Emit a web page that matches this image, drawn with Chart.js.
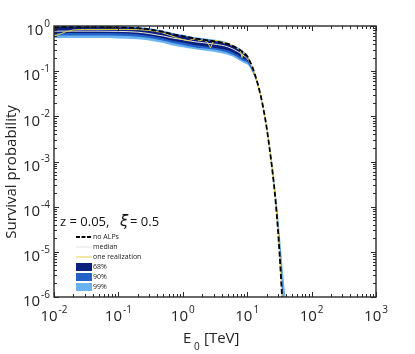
<!DOCTYPE html>
<html lang="en">
<head>
<meta charset="UTF-8">
<title>Survival probability</title>
<script src="https://cdn.jsdelivr.net/npm/chart.js"></script>
<style>
  html, body { margin: 0; padding: 0; background: #fff; }
  #wrap { width: 415px; height: 354px; position: relative; }
</style>
</head>
<body>
<div id="wrap"><canvas id="myChart"></canvas></div>
<script>
// energies in TeV (shared by the bands, the median and the no-ALP curve)
const energy = [0.01, 0.02, 0.05, 0.1, 0.2, 0.3, 0.5, 0.7, 1, 1.5, 2, 3, 4, 5, 6, 7, 8, 9,
  10, 11, 12, 13, 14, 15, 16, 17, 18, 19, 20, 22, 24, 26, 28, 30, 32, 34, 36, 38, 40];

const noAlps = [0.96, 0.96, 0.955, 0.94, 0.9, 0.84, 0.74, 0.66, 0.6, 0.53, 0.5, 0.46, 0.43, 0.4, 0.36, 0.32, 0.285, 0.25,
  0.215, 0.165, 0.125, 0.09, 0.064, 0.045, 0.031, 0.021, 0.0138, 0.009, 0.0058, 0.0022, 0.00085, 0.00031, 0.000105,
  3.1e-5, 8e-6, 1.8e-6, 4e-7, 8e-8, 1.5e-8];

const median = [0.77, 0.77, 0.77, 0.76, 0.73, 0.68, 0.6, 0.54, 0.5, 0.45, 0.43, 0.4, 0.375, 0.345, 0.31, 0.275, 0.245, 0.215,
  0.19, 0.152, 0.118, 0.086, 0.062, 0.0438, 0.0302, 0.0206, 0.0136, 0.0089, 0.0057, 0.00218, 0.00084, 0.000305, 0.000103,
  3.1e-5, 8e-6, 1.8e-6, 4e-7, 8e-8, 1.5e-8];

const band68Lo = [0.70, 0.70, 0.70, 0.69, 0.66, 0.61, 0.53, 0.47, 0.43, 0.38, 0.36, 0.33, 0.31, 0.29, 0.26, 0.23, 0.205, 0.185,
  0.172, 0.14, 0.109, 0.081, 0.059, 0.0423, 0.0291, 0.0202, 0.0132, 0.0086, 0.0056, 0.0021, 0.00082, 0.0003, 0.0001,
  3e-5, 7.8e-6, 1.7e-6, 3.8e-7, 8e-8, 1.5e-8];
const band68Hi = [0.95, 0.95, 0.945, 0.93, 0.89, 0.83, 0.73, 0.65, 0.59, 0.52, 0.49, 0.45, 0.42, 0.394, 0.355, 0.315, 0.28, 0.246,
  0.213, 0.163, 0.124, 0.089, 0.0634, 0.0448, 0.0309, 0.021, 0.0138, 0.009, 0.0058, 0.0023, 0.0009, 0.00034, 0.00012,
  3.8e-5, 1.1e-5, 2.8e-6, 7e-7, 1.6e-7, 3e-8];
const band90Lo = [0.62, 0.62, 0.62, 0.61, 0.58, 0.54, 0.47, 0.42, 0.38, 0.34, 0.32, 0.3, 0.28, 0.256, 0.23, 0.205, 0.182, 0.165,
  0.157, 0.13, 0.1025, 0.077, 0.057, 0.0414, 0.0285, 0.02, 0.0131, 0.0086, 0.0055, 0.0021, 0.0008, 0.00029, 0.000097,
  2.9e-5, 7.5e-6, 1.6e-6, 3.6e-7, 8e-8, 1.5e-8];
const band90Hi = [0.98, 0.98, 0.975, 0.96, 0.92, 0.86, 0.76, 0.68, 0.62, 0.55, 0.52, 0.48, 0.45, 0.41, 0.37, 0.33, 0.293, 0.258,
  0.221, 0.17, 0.129, 0.092, 0.065, 0.0457, 0.0315, 0.0214, 0.0141, 0.0092, 0.0059, 0.0024, 0.00095, 0.00037, 0.00014,
  4.8e-5, 1.5e-5, 4.2e-6, 1.2e-6, 3e-7, 7e-8];
const band99Lo = [0.54, 0.54, 0.54, 0.53, 0.51, 0.48, 0.42, 0.37, 0.34, 0.31, 0.29, 0.27, 0.25, 0.232, 0.21, 0.186, 0.165, 0.15,
  0.142, 0.12, 0.095, 0.074, 0.055, 0.0405, 0.0279, 0.0197, 0.013, 0.0085, 0.0055, 0.0021, 0.0008, 0.00028, 0.000095,
  2.8e-5, 7.2e-6, 1.5e-6, 3.5e-7, 7e-8, 1.4e-8];
const band99Hi = [1.0, 1.0, 1.0, 0.99, 0.95, 0.89, 0.79, 0.7, 0.64, 0.57, 0.54, 0.5, 0.47, 0.428, 0.385, 0.342, 0.305, 0.267,
  0.23, 0.175, 0.131, 0.094, 0.066, 0.0464, 0.032, 0.0216, 0.0142, 0.0093, 0.006, 0.0025, 0.00105, 0.00044, 0.00018,
  7e-5, 2.5e-5, 9e-6, 3.5e-6, 1.6e-6, 8e-7];

// one random realization of the ALP-photon mixing
const realEnergy = [0.01, 0.012, 0.015, 0.02, 0.03, 0.05, 0.1, 0.2, 0.3, 0.45, 0.6, 0.8, 1.0, 1.2, 1.4, 1.6, 1.8, 2.1,
  2.4, 2.7, 3.0, 3.4, 4, 5, 6, 7, 7.8, 8.3, 8.8, 9.5, 10.5, 11, 12, 13, 14, 15, 16, 17, 18, 19, 20, 22, 24, 26, 28,
  30, 32, 34, 36];
const realization = [0.6, 0.65, 0.74, 0.82, 0.84, 0.84, 0.84, 0.83, 0.8, 0.73, 0.64, 0.55, 0.5, 0.47, 0.5, 0.53, 0.47, 0.5,
  0.44, 0.33, 0.47, 0.48, 0.44, 0.41, 0.37, 0.32, 0.29, 0.2, 0.26, 0.235, 0.19, 0.168, 0.125, 0.09, 0.064, 0.045,
  0.031, 0.021, 0.0138, 0.009, 0.0058, 0.0022, 0.00085, 0.00031, 0.000105, 3.1e-5, 8e-6, 1.8e-6, 4e-7];

const xDecades = [-2, -1, 0, 1, 2, 3];
const yDecades = [-6, -5, -4, -3, -2, -1, 0];
const legendLabels = ['no ALPs', 'median', 'one realization', '68%', '90%', '99%'];

const FONT = '"Open Sans", "DejaVu Sans", sans-serif';
const C68 = '#0b1f7d';
const C90 = '#2462c8';
const C99 = '#6ab2f0';

const pts = (xs, ys) => xs.map((e, i) => ({ x: e, y: ys[i] }));

function bandPair(lo, hi, color, order) {
  return [
    { data: pts(energy, lo), borderWidth: 0, fill: false, order: order, cubicInterpolationMode: 'monotone' },
    { data: pts(energy, hi), borderWidth: 0, fill: '-1', backgroundColor: color, order: order, cubicInterpolationMode: 'monotone' }
  ];
}

function drawPow(ctx, exp, x, y, align) {
  ctx.font = '15px ' + FONT;
  const wb = ctx.measureText('10').width;
  ctx.font = '10px ' + FONT;
  const we = ctx.measureText(exp).width;
  const total = wb + we + 1;
  let x0 = align === 'center' ? x - total / 2 : x - total;
  ctx.textAlign = 'left';
  ctx.textBaseline = 'middle';
  ctx.font = '15px ' + FONT;
  ctx.fillText('10', x0, y);
  ctx.font = '10px ' + FONT;
  ctx.fillText(exp, x0 + wb + 1, y - 7);
}

const framePlugin = {
  id: 'frame',
  afterDraw(chart) {
    const { ctx, chartArea: a, scales } = chart;
    const xs = scales.x, ys = scales.y;
    ctx.save();
    ctx.strokeStyle = '#2a2a2a';
    ctx.lineWidth = 1;
    const seg = (x1, y1, x2, y2) => { ctx.beginPath(); ctx.moveTo(x1, y1); ctx.lineTo(x2, y2); ctx.stroke(); };

    // inward tick marks on all four sides
    xDecades.forEach(d => {
      for (let m = 1; m < 10; m++) {
        const v = m * Math.pow(10, d);
        if (v > xs.max * 1.0001) break;
        const px = Math.round(xs.getPixelForValue(v)) + 0.5;
        const len = m === 1 ? 5 : 3;
        seg(px, a.bottom, px, a.bottom - len);
        seg(px, a.top, px, a.top + len);
      }
    });
    yDecades.forEach(d => {
      for (let m = 1; m < 10; m++) {
        const v = m * Math.pow(10, d);
        if (v > ys.max * 1.0001) break;
        const py = Math.round(ys.getPixelForValue(v)) + 0.5;
        const len = m === 1 ? 5 : 3;
        seg(a.left, py, a.left + len, py);
        seg(a.right, py, a.right - len, py);
      }
    });
    ctx.lineWidth = 1.4;
    ctx.strokeRect(a.left, a.top, a.right - a.left, a.bottom - a.top);

    // tick labels
    ctx.fillStyle = '#222';
    xDecades.forEach(d => drawPow(ctx, String(d), xs.getPixelForValue(Math.pow(10, d)), a.bottom + 20, 'center'));
    yDecades.forEach(d => drawPow(ctx, String(d), a.left - 4, ys.getPixelForValue(Math.pow(10, d)) + 5, 'right'));

    // axis titles
    ctx.font = '15px ' + FONT;
    ctx.textBaseline = 'middle';
    ctx.textAlign = 'center';
    ctx.save();
    ctx.translate(12, 172);
    ctx.rotate(-Math.PI / 2);
    ctx.fillText('Survival probability', 0, 0);
    ctx.restore();
    ctx.textAlign = 'left';
    ctx.textBaseline = 'alphabetic';
    ctx.fillText('E', 183, 343);
    ctx.font = '10px ' + FONT;
    ctx.fillText('0', 194, 350);
    ctx.font = '15px ' + FONT;
    ctx.fillText('[TeV]', 204, 343);

    // annotation
    ctx.textBaseline = 'middle';
    ctx.fillStyle = '#111';
    ctx.font = '13px ' + FONT;
    ctx.fillText('z = 0.05,', 60, 222);
    ctx.font = 'italic 15px "DejaVu Sans", sans-serif';
    ctx.fillText('ξ', 120, 222);
    ctx.font = '13px ' + FONT;
    ctx.fillText('= 0.5', 130, 222);

    // legend
    const ly = [237, 247, 257, 267, 277, 287];
    ctx.font = '7px ' + FONT;
    ctx.lineWidth = 2;
    ctx.strokeStyle = '#000';
    ctx.setLineDash([4, 1.5]);
    seg(76, ly[0], 92, ly[0]);
    ctx.setLineDash([]);
    ctx.lineWidth = 1;
    ctx.strokeStyle = '#e4e4e4';
    seg(76, ly[1], 92, ly[1]);
    ctx.strokeStyle = '#e8d44a';
    seg(76, ly[2], 92, ly[2]);
    [C68, C90, C99].forEach((c, i) => {
      ctx.fillStyle = c;
      ctx.fillRect(76, ly[3 + i] - 4, 16, 8);
    });
    ctx.fillStyle = '#222';
    legendLabels.forEach((t, i) => ctx.fillText(t, 93, ly[i]));
    ctx.restore();
  }
};

const ctx = document.getElementById('myChart').getContext('2d');
new Chart(ctx, {
  type: 'line',
  data: {
    datasets: [
      ...bandPair(band99Lo, band99Hi, C99, 10),
      ...bandPair(band90Lo, band90Hi, C90, 9),
      ...bandPair(band68Lo, band68Hi, C68, 8),
      { data: pts(energy, median), borderColor: '#e6e6e6', borderWidth: 1, fill: false, order: 3, cubicInterpolationMode: 'monotone' },
      { data: pts(realEnergy, realization), borderColor: '#e3d24a', borderWidth: 1, fill: false, order: 2 },
      { data: pts(energy, noAlps), borderColor: '#000', borderWidth: 1.8, borderDash: [5, 2.5], fill: false, order: 1, cubicInterpolationMode: 'monotone' }
    ]
  },
  options: {
    responsive: true,
    maintainAspectRatio: false,
    animation: false,
    layout: { padding: { left: 54, top: 26, right: 39, bottom: 57 } },
    elements: { point: { radius: 0 } },
    plugins: { legend: { display: false }, tooltip: { enabled: false } },
    scales: {
      x: { type: 'logarithmic', min: 0.01, max: 1000, display: false },
      y: { type: 'logarithmic', min: 1e-6, max: 1, display: false }
    }
  },
  plugins: [framePlugin]
});
</script>
</body>
</html>
